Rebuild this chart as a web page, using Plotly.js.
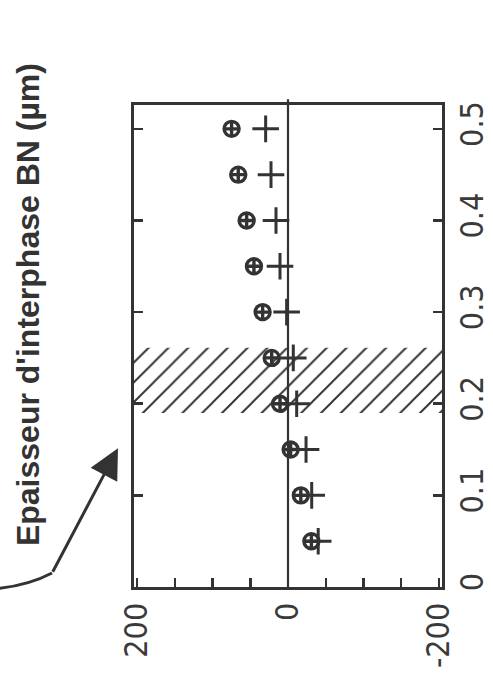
<!DOCTYPE html>
<html>
<head>
<meta charset="utf-8">
<script src="https://cdn.plot.ly/plotly-3.0.1.min.js"></script>
<style>
  html, body { margin: 0; padding: 0; background: #fff; }
  #chart { width: 493px; height: 675px; }
</style>
</head>
<body>
<div id="chart"></div>
<script>
// ---- data ----
const thickness = [0.05, 0.10, 0.15, 0.20, 0.25, 0.30, 0.35, 0.40, 0.45, 0.50];
const seriesCircle = [-31, -17, -3.5, 10.6, 21.6, 33.6, 45.1, 54.8, 65.9, 74.7];
const seriesPlus = [-40, -31.4, -23.9, -11.5, -7, 1.8, 10.6, 15.9, 22.5, 29.6];
const hatchBand = [0.19, 0.261];
const valueRange = [204, -204];
const thicknessRange = [0, 0.526];
const valueTicks = [200, 150, 100, 50, 0, -50, -100, -150, -200];
const valueTickText = ['200', '', '', '', '0', '', '', '', '-200'];
const thicknessTicks = [0, 0.1, 0.2, 0.3, 0.4, 0.5];
const thicknessTickText = ['0', '0.1', '0.2', '0.3', '0.4', '0.5'];
const axisTitle = "Epaisseur d'interphase BN (µm)";

const ink = '#333333';
const tickFont = { family: '"Liberation Sans Narrow", "DejaVu Sans Condensed", "Liberation Sans", sans-serif', size: 32, color: '#3a3a3a' };

const traces = [
  {
    type: 'scatter', mode: 'none', fill: 'toself',
    x: [valueRange[0], valueRange[1], valueRange[1], valueRange[0]],
    y: [hatchBand[0], hatchBand[0], hatchBand[1], hatchBand[1]],
    fillcolor: 'rgba(0,0,0,0)',
    fillpattern: { shape: '/', fgcolor: ink, bgcolor: 'rgba(0,0,0,0)', size: 14, solidity: 0.14 },
    hoverinfo: 'skip', showlegend: false
  },
  {
    type: 'scatter', mode: 'markers', x: seriesCircle, y: thickness,
    marker: { symbol: 'circle-cross-open', size: 15, color: ink, line: { width: 3.4, color: ink } },
    showlegend: false
  },
  {
    type: 'scatter', mode: 'markers', x: seriesPlus, y: thickness,
    marker: { symbol: 'cross-thin-open', size: 19, color: ink, line: { width: 3, color: ink } },
    showlegend: false
  }
];

const layout = {
  width: 493, height: 675,
  margin: { l: 134, r: 51, t: 105, b: 88, pad: 0 },
  paper_bgcolor: '#fff', plot_bgcolor: '#fff',
  showlegend: false,
  xaxis: {
    range: valueRange, tickmode: 'array', tickvals: valueTicks, ticktext: valueTickText,
    ticks: 'inside', ticklen: 9, tickwidth: 2.5, tickcolor: ink,
    showline: true, linewidth: 3, linecolor: ink, mirror: true,
    showgrid: false, zeroline: false, tickangle: -90, tickfont: tickFont
  },
  yaxis: {
    side: 'right',
    range: thicknessRange, tickmode: 'array', tickvals: thicknessTicks, ticktext: thicknessTickText,
    ticks: 'inside', ticklen: 9, tickwidth: 2.5, tickcolor: ink,
    showline: true, linewidth: 3, linecolor: ink, mirror: 'ticks',
    showgrid: false, zeroline: false, tickangle: -90, tickfont: tickFont
  },
  shapes: [
    { type: 'line', xref: 'x', yref: 'paper', x0: 0, x1: 0, y0: 0, y1: 1.012,
      line: { color: ink, width: 2.2 } },
    { type: 'path', xref: 'paper', yref: 'paper',
      path: 'M -0.44 -0.003 Q -0.34 0.004 -0.266 0.029',
      line: { color: ink, width: 3 } }
  ],
  annotations: [
    { xref: 'paper', yref: 'paper', x: -0.344, y: 0.585, xanchor: 'center', yanchor: 'middle',
      text: axisTitle, textangle: -90, showarrow: false,
      font: { family: '"Liberation Sans", Arial, sans-serif', size: 32, color: ink, weight: 'bold' } },
    { xref: 'paper', yref: 'paper', x: -0.052, y: 0.288, text: '',
      showarrow: true, ax: -66, ay: 125, arrowhead: 2, arrowsize: 2, arrowwidth: 3, arrowcolor: ink, standoff: 0 }
  ]
};

Plotly.newPlot('chart', traces, layout, { displayModeBar: false, staticPlot: true });
</script>
</body>
</html>
